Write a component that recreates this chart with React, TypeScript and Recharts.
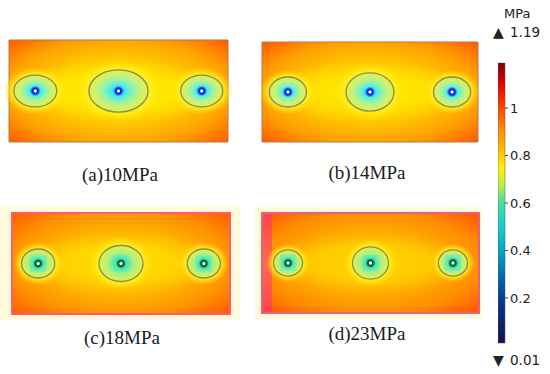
import React from 'react';
import { ScatterChart, Scatter, XAxis, YAxis, ReferenceArea, BarChart, Bar } from 'recharts';

// plate model: x 0..100, y 0..46 (arbitrary units), three holes on the mid line
const panelLabels = ['(a)10MPa', '(b)14MPa', '(c)18MPa', '(d)23MPa'];
const holeX = [12, 50, 88];
const holeY = [23, 23, 23];
// semi-axes of the drawn stress contour around each hole, per panel
const contourRx = [
  [9.8, 13.5, 9.6],
  [8.6, 11.1, 8.6],
  [7.6, 10.1, 7.6],
  [6.7, 8.3, 6.7],
];
const contourRy = [
  [7.2, 9.5, 7.2],
  [6.9, 8.8, 6.9],
  [6.6, 8.2, 6.6],
  [6.0, 7.4, 6.0],
];
const barTicks = [0.2, 0.4, 0.6, 0.8, 1];
const barMin = 0.01;
const barMax = 1.19;
const unitLabel = 'MPa';

const PLATE_W = 100;
const PLATE_H = 46;
const PAD = 4;

const panels = [
  { left: 9, top: 40, w: 219, h: 102, green: false, bg: ['#ffe400', '#ffc800', '#ffa200', '#ff5a00'], border: '#b57a48', bw: 1, band: '#ffee00' },
  { left: 262, top: 42, w: 216, h: 100, green: false, bg: ['#ffe000', '#ffc400', '#ff9e00', '#ff5800'], border: '#b57a48', bw: 1, band: '#ffea00' },
  { left: 12, top: 213, w: 218, h: 101, green: true, bg: ['#ffd400', '#ffb400', '#ff9200', '#ff5800'], border: '#ff5a6e', bw: 2, band: '#ffdc00' },
  { left: 262, top: 213, w: 217, h: 100, green: true, bg: ['#ffcc00', '#ffaa00', '#ff8c00', '#ff5000'], border: '#e8607a', bw: 2, band: '#ffd400' },
];
const labelPos = [[120, 181], [367, 179], [122, 344], [367, 340]];

const jetStops: [number, string][] = [
  [1.19, '#7a0008'],
  [1.12, '#d00000'],
  [1.05, '#ff2000'],
  [1.0, '#ff4a00'],
  [0.9, '#ff9000'],
  [0.8, '#ffcc00'],
  [0.75, '#fff000'],
  [0.68, '#c0f040'],
  [0.6, '#40e0a0'],
  [0.5, '#10d0d0'],
  [0.4, '#00a8c0'],
  [0.3, '#0070b0'],
  [0.2, '#063c90'],
  [0.01, '#121250'],
];
const barData = [{ name: unitLabel, lo: barMin, hi: barMax }];

function HoleMark(props: any) {
  const { cx, cy, payload, kx, ky, id, green } = props;
  if (cx == null || cy == null) return null;
  const rx = payload.rx * kx;
  const ry = payload.ry * ky;
  return (
    <g>
      <ellipse cx={cx} cy={cy} rx={rx * 1.5} ry={ry * 1.5} fill={`url(#halo-${id})`} />
      <ellipse cx={cx} cy={cy} rx={rx} ry={ry} fill={`url(#core-${id})`} />
      {green && <rect x={cx - 8} y={cy - 8} width={16} height={16} fill="#50e8d8" opacity={0.5} />}
      <circle cx={cx} cy={cy} r={5.5} fill={`url(#eye-${id})`} />
      <circle cx={cx} cy={cy} r={1.7} fill="#ffffff" />
      <ellipse cx={cx} cy={cy} rx={rx} ry={ry} fill="none" stroke="#8d8a4e" strokeWidth={1.3} />
    </g>
  );
}

function Panel({ idx }: { idx: number }) {
  const p = panels[idx];
  const id = `p${idx}`;
  const kx = p.w / PLATE_W;
  const ky = p.h / PLATE_H;
  const data = holeX.map((x, j) => ({ x, y: holeY[j], rx: contourRx[idx][j], ry: contourRy[idx][j] }));
  return (
    <div style={{ position: 'absolute', left: p.left - PAD, top: p.top - PAD }}>
      <ScatterChart width={p.w + PAD * 2} height={p.h + PAD * 2} margin={{ top: PAD, right: PAD, bottom: PAD, left: PAD }}>
        <defs>
          <radialGradient id={`bg-${id}`} cx="50%" cy="50%" r="71%">
            <stop offset="0" stopColor={p.bg[0]} />
            <stop offset="0.45" stopColor={p.bg[1]} />
            <stop offset="0.72" stopColor={p.bg[2]} />
            <stop offset="1" stopColor={p.bg[3]} />
          </radialGradient>
          <radialGradient
            id={`band-${id}`}
            cx="0.5"
            cy="0.5"
            r="0.5"
            gradientTransform="translate(0.5 0.5) scale(1 0.62) translate(-0.5 -0.5)"
          >
            <stop offset="0" stopColor={p.band} stopOpacity={0.9} />
            <stop offset="0.55" stopColor={p.band} stopOpacity={0.7} />
            <stop offset="0.8" stopColor={p.band} stopOpacity={0.25} />
            <stop offset="1" stopColor={p.band} stopOpacity={0} />
          </radialGradient>
          <linearGradient id={`strip-${id}`} x1="0" y1="0" x2="0" y2="1">
            <stop offset="0" stopColor="#ff4448" />
            <stop offset="0.5" stopColor="#ff6a4c" />
            <stop offset="1" stopColor="#ff4448" />
          </linearGradient>
          <radialGradient id={`halo-${id}`} cx="50%" cy="50%" r="50%">
            <stop offset="0" stopColor="#e4f040" stopOpacity={1} />
            <stop offset="0.64" stopColor="#e4f040" stopOpacity={0.9} />
            <stop offset="0.74" stopColor="#fff020" stopOpacity={0.75} />
            <stop offset="1" stopColor="#ffe000" stopOpacity={0} />
          </radialGradient>
          {p.green ? (
            <radialGradient id={`core-${id}`} cx="50%" cy="50%" r="50%">
              <stop offset="0" stopColor="#00d060" />
              <stop offset="0.25" stopColor="#40e490" />
              <stop offset="0.55" stopColor="#a0f088" />
              <stop offset="0.85" stopColor="#d0f060" />
              <stop offset="1" stopColor="#dcf050" />
            </radialGradient>
          ) : (
            <radialGradient id={`core-${id}`} cx="50%" cy="50%" r="50%">
              <stop offset="0" stopColor="#10a8ff" />
              <stop offset="0.12" stopColor="#28d4ff" />
              <stop offset="0.3" stopColor="#50eee0" />
              <stop offset="0.5" stopColor="#90f2b0" />
              <stop offset="0.75" stopColor="#c8f278" />
              <stop offset="1" stopColor="#e2f048" />
            </radialGradient>
          )}
          {p.green ? (
            <radialGradient id={`eye-${id}`} cx="50%" cy="50%" r="50%">
              <stop offset="0" stopColor="#002c14" />
              <stop offset="0.55" stopColor="#006830" />
              <stop offset="1" stopColor="#10c060" stopOpacity={0} />
            </radialGradient>
          ) : (
            <radialGradient id={`eye-${id}`} cx="50%" cy="50%" r="50%">
              <stop offset="0" stopColor="#0010b0" />
              <stop offset="0.55" stopColor="#0024f0" />
              <stop offset="1" stopColor="#2080ff" stopOpacity={0} />
            </radialGradient>
          )}
        </defs>
        <XAxis type="number" dataKey="x" domain={[0, PLATE_W]} hide />
        <YAxis type="number" dataKey="y" domain={[0, PLATE_H]} hide />
        <ReferenceArea x1={0} x2={PLATE_W} y1={0} y2={PLATE_H} fill={`url(#bg-${id})`} fillOpacity={1} stroke="none" />
        <ReferenceArea x1={0} x2={PLATE_W} y1={0} y2={PLATE_H} fill={`url(#band-${id})`} fillOpacity={1} stroke="none" />
        {idx === 3 && (
          <ReferenceArea x1={0} x2={4.6} y1={0} y2={PLATE_H} fill={`url(#strip-${id})`} fillOpacity={1} stroke="none" />
        )}
        <ReferenceArea x1={0} x2={PLATE_W} y1={0} y2={PLATE_H} fill="none" stroke={p.border} strokeWidth={p.bw} ifOverflow="visible" />
        <Scatter
          data={data}
          isAnimationActive={false}
          shape={(s: any) => <HoleMark {...s} kx={kx} ky={ky} id={id} green={p.green} />}
        />
      </ScatterChart>
    </div>
  );
}

function ColorBar() {
  const span = barMax - barMin;
  return (
    <div style={{ position: 'absolute', left: 498, top: 0 }}>
      <BarChart
        width={52}
        height={374}
        data={barData}
        margin={{ top: 63, right: 0, bottom: 31, left: 0 }}
        barCategoryGap={0}
      >
        <defs>
          <linearGradient id="jet" x1="0" y1="0" x2="0" y2="1">
            {jetStops.map(([v, c]) => (
              <stop key={v} offset={(barMax - v) / span} stopColor={c} />
            ))}
          </linearGradient>
        </defs>
        <XAxis dataKey="name" hide />
        <YAxis
          type="number"
          orientation="right"
          domain={[barMin, barMax]}
          ticks={barTicks}
          width={45}
          axisLine={false}
          tickSize={3}
          tickLine={{ stroke: '#444' }}
          tick={{ fill: '#222', fontSize: 13, fontFamily: 'DejaVu Sans' }}
        />
        <Bar dataKey={(d: any) => [d.lo, d.hi]} fill="url(#jet)" stroke="#555" strokeWidth={0.5} isAnimationActive={false} />
      </BarChart>
    </div>
  );
}

export default function App() {
  return (
    <div style={{ position: 'absolute', left: 0, top: 0, width: 550, height: 374, background: '#fff', overflow: 'hidden' }}>
      <div style={{ position: 'absolute', left: 0, top: 206, width: 240, height: 114, background: '#fffbdc' }} />
      <div style={{ position: 'absolute', left: 255, top: 207, width: 228, height: 112, background: '#fffbdc' }} />
      {panels.map((_, i) => (
        <Panel key={i} idx={i} />
      ))}
      <ColorBar />
      <svg width={550} height={374} style={{ position: 'absolute', left: 0, top: 0, pointerEvents: 'none' }}>
        {panelLabels.map((t, i) => (
          <text key={t} x={labelPos[i][0]} y={labelPos[i][1]} textAnchor="middle" fontFamily="Liberation Serif" fontSize={19} fill="#1a1a1a">
            {t}
          </text>
        ))}
        <g fontFamily="DejaVu Sans" fill="#222">
          <text x={504} y={18} fontSize={13}>{unitLabel}</text>
          <text x={493} y={37} fontSize={14}>▲</text>
          <text x={510} y={37} fontSize={13.5}>{barMax.toFixed(2)}</text>
          <text x={493} y={365} fontSize={14}>▼</text>
          <text x={510} y={365} fontSize={13.5}>{barMin.toFixed(2)}</text>
        </g>
      </svg>
    </div>
  );
}
